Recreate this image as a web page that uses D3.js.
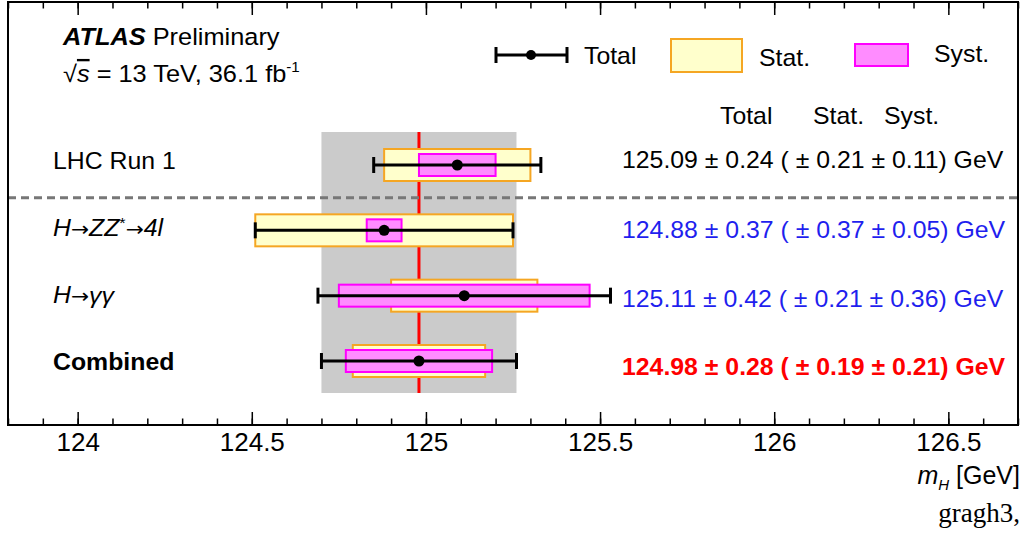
<!DOCTYPE html>
<html>
<head>
<meta charset="utf-8">
<script src="https://cdn.jsdelivr.net/npm/d3@7"></script>
<style>
  body { margin: 0; background: #fff; }
  svg text { font-family: "Liberation Sans", Arial, sans-serif; }
</style>
</head>
<body>
<div id="chart"></div>
<script>
// measurements of m_H per channel
const channels = ["LHC Run 1", "H→ZZ*→4l", "H→γγ", "Combined"];
const central = [125.09, 124.88, 125.11, 124.98];
const totalErr = [0.24, 0.37, 0.42, 0.28];
const statErr = [0.21, 0.37, 0.21, 0.19];
const systErr = [0.11, 0.05, 0.36, 0.21];
const textColors = ["#000000", "#1f1fee", "#1f1fee", "#ff0000"];
const majorTicks = [124, 124.5, 125, 125.5, 126, 126.5];
const minorTicks = d3.range(123.8, 126.71, 0.1).map(v => +v.toFixed(1));

const W = 1027, H = 535;
const box = { left: 8, right: 1018, top: 2, bottom: 425 };
const FS = 23, SX = 1.08; // text size and slight horizontal stretch

const svg = d3.select("#chart").append("svg")
  .attr("width", W).attr("height", H);

// put a text at (px,py) with the horizontal stretch
function label(parent, px, py, size) {
  return parent.append("text")
    .attr("transform", `translate(${px},${py}) scale(${SX},1)`)
    .attr("font-size", size || FS);
}

const x = d3.scaleLinear().domain([123.8, 126.7]).range([box.left, box.right]);
const y = d3.scalePoint().domain(channels).range([165, 361]);

// grey band and red line for combined result
const ci = channels.length - 1;
svg.append("rect")
  .attr("x", x(central[ci] - totalErr[ci]))
  .attr("width", x(central[ci] + totalErr[ci]) - x(central[ci] - totalErr[ci]))
  .attr("y", y(channels[0]) - 33)
  .attr("height", y(channels[ci]) - y(channels[0]) + 65)
  .attr("fill", "#cbcbcb");
svg.append("line")
  .attr("x1", x(central[ci])).attr("x2", x(central[ci]))
  .attr("y1", y(channels[0]) - 33).attr("y2", y(channels[ci]) + 32)
  .attr("stroke", "#ff0000").attr("stroke-width", 3);

// dashed separator after the Run 1 row
const sepY = (y(channels[0]) + y(channels[1])) / 2;
svg.append("line")
  .attr("x1", box.left).attr("x2", box.right)
  .attr("y1", sepY).attr("y2", sepY)
  .attr("stroke", "#777").attr("stroke-width", 3)
  .attr("stroke-dasharray", "8,5");

const rows = svg.selectAll("g.row")
  .data(channels.map((c, i) => ({ c, i })))
  .enter().append("g").attr("class", "row");

// stat box
rows.append("rect")
  .attr("x", d => x(central[d.i] - statErr[d.i]))
  .attr("width", d => x(central[d.i] + statErr[d.i]) - x(central[d.i] - statErr[d.i]))
  .attr("y", d => y(d.c) - 16).attr("height", 32)
  .attr("fill", "#ffffcc").attr("stroke", "#f5a623").attr("stroke-width", 2);
// syst box
rows.append("rect")
  .attr("x", d => x(central[d.i] - systErr[d.i]))
  .attr("width", d => x(central[d.i] + systErr[d.i]) - x(central[d.i] - systErr[d.i]))
  .attr("y", d => y(d.c) - 11).attr("height", 22)
  .attr("fill", "#ff8cff").attr("stroke", "#ff00ff").attr("stroke-width", 2);
// total error bar
rows.append("line")
  .attr("x1", d => x(central[d.i] - totalErr[d.i]))
  .attr("x2", d => x(central[d.i] + totalErr[d.i]))
  .attr("y1", d => y(d.c)).attr("y2", d => y(d.c))
  .attr("stroke", "#000").attr("stroke-width", 3);
[-1, 1].forEach(s => {
  rows.append("line")
    .attr("x1", d => x(central[d.i] + s * totalErr[d.i]))
    .attr("x2", d => x(central[d.i] + s * totalErr[d.i]))
    .attr("y1", d => y(d.c) - 8).attr("y2", d => y(d.c) + 8)
    .attr("stroke", "#000").attr("stroke-width", 3);
});
rows.append("circle")
  .attr("cx", d => x(central[d.i])).attr("cy", d => y(d.c))
  .attr("r", 5.5).attr("fill", "#000");

// row labels
const arrow = t => t.append("tspan").style("font-family", "DejaVu Sans").attr("font-size", 20).text("→");
label(svg, 53, y(channels[0]) + 4).text(channels[0]);
const zz = label(svg, 53, y(channels[1]) + 6);
zz.append("tspan").attr("font-style", "italic").text("H");
arrow(zz);
zz.append("tspan").attr("font-style", "italic").text("ZZ");
zz.append("tspan").attr("font-size", 15).attr("dy", -8).text("*");
arrow(zz).attr("dy", 8);
zz.append("tspan").attr("font-style", "italic").text("4l");
const gg = label(svg, 53, y(channels[2]) + 7);
gg.append("tspan").attr("font-style", "italic").text("H");
arrow(gg);
gg.append("tspan").attr("font-style", "italic").text("γγ");
label(svg, 53, y(channels[3]) + 9).attr("font-weight", "bold").text(channels[3]);

// value text
const valOffset = [3, 8, 11, 14];
channels.forEach((c, i) => {
  label(svg, 622, y(c) + valOffset[i])
    .attr("fill", textColors[i])
    .attr("font-weight", i === ci ? "bold" : "normal")
    .style("white-space", "pre")
    .text(`${central[i].toFixed(2)} ± ${totalErr[i].toFixed(2)} ( ± ${statErr[i].toFixed(2)} ± ${systErr[i].toFixed(2)}) GeV`);
});

// column headers
const headers = [["Total", 720], ["Stat.", 813], ["Syst.", 884]];
headers.forEach(([t, px]) => label(svg, px, 124).text(t));

// ATLAS header
const t1 = label(svg, 63, 45, 23.5);
t1.append("tspan").attr("font-weight", "bold").attr("font-style", "italic").text("ATLAS");
t1.append("tspan").text(" Preliminary");
const t2 = label(svg, 63, 82, 23.5);
t2.append("tspan").text("√");
t2.append("tspan").attr("font-style", "italic").style("text-decoration", "overline").text("s");
t2.append("tspan").text(" = 13 TeV, 36.1 fb");
t2.append("tspan").attr("font-size", 14).attr("dy", -10).text("-1");

// legend
const lg = svg.append("g");
lg.append("line").attr("x1", 496).attr("x2", 567).attr("y1", 55).attr("y2", 55)
  .attr("stroke", "#000").attr("stroke-width", 3);
[496, 567].forEach(px => lg.append("line").attr("x1", px).attr("x2", px)
  .attr("y1", 47).attr("y2", 63).attr("stroke", "#000").attr("stroke-width", 3));
lg.append("circle").attr("cx", 531).attr("cy", 55).attr("r", 5).attr("fill", "#000");
label(lg, 584, 64).text("Total");
lg.append("rect").attr("x", 671).attr("y", 39).attr("width", 71).attr("height", 33)
  .attr("fill", "#ffffcc").attr("stroke", "#f5a623").attr("stroke-width", 2);
label(lg, 759, 66).text("Stat.");
lg.append("rect").attr("x", 855).attr("y", 44).attr("width", 53).attr("height", 22)
  .attr("fill", "#ff8cff").attr("stroke", "#ff00ff").attr("stroke-width", 2);
label(lg, 934, 62).text("Syst.");

// axes: ticks pointing inward on top and bottom
const bottomAxis = svg.append("g").attr("transform", `translate(0,${box.bottom})`);
bottomAxis.call(d3.axisBottom(x).tickValues(minorTicks).tickSize(-6.5).tickFormat(""));
bottomAxis.append("g").call(d3.axisBottom(x).tickValues(majorTicks).tickSize(-13).tickPadding(8).tickFormat(d3.format("~g")));
bottomAxis.selectAll("path.domain").remove();
bottomAxis.selectAll("line").attr("stroke", "#000").attr("stroke-width", 1.5);
bottomAxis.selectAll("text").attr("font-size", 26).attr("fill", "#000")
  .attr("font-family", "Liberation Sans, Arial, sans-serif");

const topAxis = svg.append("g").attr("transform", `translate(0,${box.top})`);
topAxis.call(d3.axisTop(x).tickValues(minorTicks).tickSize(-6.5).tickFormat(""));
topAxis.append("g").call(d3.axisTop(x).tickValues(majorTicks).tickSize(-13).tickFormat(""));
topAxis.selectAll("path.domain").remove();
topAxis.selectAll("line").attr("stroke", "#000").attr("stroke-width", 1.5);

// frame
svg.append("rect")
  .attr("x", box.left).attr("y", box.top)
  .attr("width", box.right - box.left).attr("height", box.bottom - box.top)
  .attr("fill", "none").attr("stroke", "#000").attr("stroke-width", 2);

// axis title
const xt = svg.append("text").attr("x", 1020).attr("y", 484).attr("text-anchor", "end").attr("font-size", 25);
xt.append("tspan").attr("font-style", "italic").text("m");
xt.append("tspan").attr("font-style", "italic").attr("font-size", 15).attr("dy", 6).text("H");
xt.append("tspan").attr("dy", -6).text(" [GeV]");

svg.append("text").attr("x", 1020).attr("y", 522).attr("text-anchor", "end")
  .attr("font-size", 27).style("font-family", "Liberation Serif, Times New Roman, serif")
  .text("gragh3,");
</script>
</body>
</html>
